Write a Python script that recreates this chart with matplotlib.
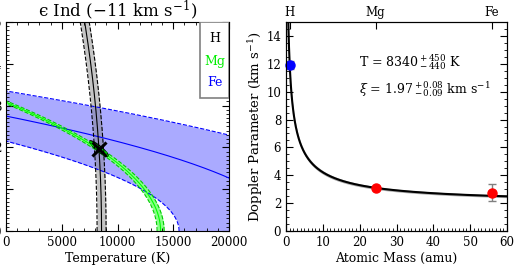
import numpy as np
import matplotlib.pyplot as plt
from matplotlib.patches import Rectangle
from matplotlib.ticker import MultipleLocator

plt.rcParams['font.family'] = ['DejaVu Serif']
plt.rcParams['mathtext.fontset'] = 'dejavuserif'
plt.rcParams['font.size'] = 8.5

# measured Doppler parameters (km/s) per element
elements = ["H", "Mg", "Fe"]
mass = [1.008, 24.305, 55.845]
b_obs = [11.89, 3.08, 2.75]
b_err = [0.28, 0.035, 0.6]
elem_colors = ["black", "#00ee00", "blue"]

# best fit
T_fit = 8340
T_up, T_lo = 450, 440
xi_fit = 1.97
xi_up, xi_lo = 0.08, 0.09
# confidence ellipse half-widths on the T-xi plane
ell_dT, ell_dxi = 850, 0.19

C = 0.016629  # 2k/m_u in km^2 s^-2 K^-1


def temp_of_xi(b, A, xi):
    return (b**2 - xi**2) * A / C


fig = plt.figure(figsize=(5.15, 2.71), dpi=100)
ax1 = fig.add_axes([6 / 515, 40 / 271, 223 / 515, 209 / 271])
ax2 = fig.add_axes([286 / 515, 40 / 271, 221 / 515, 209 / 271])

xi = np.linspace(0, 5.2, 600)

# Fe band
b, A = b_obs[2], mass[2]
lo = np.clip(temp_of_xi(b - b_err[2], A, xi), 0, None)
hi = np.clip(temp_of_xi(b + b_err[2], A, xi), 0, None)
ax1.fill_betweenx(xi, lo, hi, color="#aaaaff", lw=0)
ax1.plot(temp_of_xi(b - b_err[2], A, xi), xi, "--", color="blue", lw=0.8)
ax1.plot(temp_of_xi(b + b_err[2], A, xi), xi, "--", color="blue", lw=0.8)
ax1.plot(temp_of_xi(b, A, xi), xi, "-", color="blue", lw=0.8)

# Mg band
b, A = b_obs[1], mass[1]
ax1.fill_betweenx(xi, temp_of_xi(b - b_err[1], A, xi), temp_of_xi(b + b_err[1], A, xi),
                  color="#88ff88", lw=0)
ax1.plot(temp_of_xi(b - b_err[1], A, xi), xi, "--", color="#00cc00", lw=0.8)
ax1.plot(temp_of_xi(b + b_err[1], A, xi), xi, "--", color="#00cc00", lw=0.8)
ax1.plot(temp_of_xi(b, A, xi), xi, "-", color="#00ff00", lw=0.8)

# H band
b, A = b_obs[0], mass[0]
ax1.fill_betweenx(xi, temp_of_xi(b - b_err[0], A, xi), temp_of_xi(b + b_err[0], A, xi),
                  color="gray", alpha=0.45, lw=0)
ax1.plot(temp_of_xi(b - b_err[0], A, xi), xi, "--", color="black", lw=0.8)
ax1.plot(temp_of_xi(b + b_err[0], A, xi), xi, "--", color="black", lw=0.8)
ax1.plot(temp_of_xi(b, A, xi), xi, "-", color="black", lw=0.8)

# confidence ellipse and best fit
t = np.linspace(0, 2 * np.pi, 200)
ell_T = T_fit + ell_dT * np.cos(t)
ell_xi = xi_fit - ell_dxi * np.cos(t + 0.45)
ax1.fill(ell_T, ell_xi, facecolor="#00dd00", edgecolor="black", lw=0.8)
ax1.plot(T_fit, xi_fit, "x", color="black", ms=10, mew=2.2)

ax1.set_xlim(0, 20000)
ax1.set_ylim(0, 5)
ax1.xaxis.set_major_locator(MultipleLocator(5000))
ax1.xaxis.set_minor_locator(MultipleLocator(1000))
ax1.yaxis.set_major_locator(MultipleLocator(1))
ax1.yaxis.set_minor_locator(MultipleLocator(0.1))
ax1.tick_params(which="both", direction="in", top=True, right=True)
ax1.tick_params(which="major", length=5)
ax1.tick_params(which="minor", length=2.5)
ax1.set_xlabel("Temperature (K)", labelpad=2, fontsize=9)
ax1.set_title("ϵ Ind ($-$11 km s$^{-1}$)", fontsize=12, pad=3)

# legend box
ax1.add_patch(Rectangle((0.87, 0.636), 0.13, 0.364, transform=ax1.transAxes,
                        facecolor="white", edgecolor="gray", lw=1.2, zorder=6))
for lab, col, yy in zip(elements, elem_colors, [0.92, 0.81, 0.71]):
    ax1.text(0.935, yy, lab, color=col, transform=ax1.transAxes, ha="center",
             va="center", fontsize=9, zorder=7)

# right panel: Doppler parameter vs atomic mass
A_grid = np.linspace(0.5, 62, 800)
b_fit = np.sqrt(C * T_fit / A_grid + xi_fit**2)
b_min = np.sqrt(C * (T_fit - T_lo) / A_grid + (xi_fit - xi_lo)**2)
b_max = np.sqrt(C * (T_fit + T_up) / A_grid + (xi_fit + xi_up)**2)
ax2.fill_between(A_grid, b_min, b_max, color="#aaaaaa", lw=0)
ax2.plot(A_grid, b_fit, color="black", lw=1.5)

pt_colors = ["blue", "red", "red"]
for m, bo, be, c in zip(mass, b_obs, b_err, pt_colors):
    ax2.errorbar(m, bo, yerr=be, fmt="o", color=c, ms=6.5, ecolor="gray",
                 elinewidth=1, capsize=3, clip_on=False, zorder=5)

ax2.text(19.8, 12.1, r"T = 8340$\,^{+\,450}_{-\,440}$ K", fontsize=9, va="center")
ax2.text(19.8, 10.2, r"$\xi$ = 1.97$\,^{+\,0.08}_{-\,0.09}$ km s$^{-1}$", fontsize=9,
         va="center")

ax2.set_xlim(0, 60)
ax2.set_ylim(0, 15)
ax2.xaxis.set_major_locator(MultipleLocator(10))
ax2.xaxis.set_minor_locator(MultipleLocator(1))
ax2.yaxis.set_major_locator(MultipleLocator(2))
ax2.yaxis.set_minor_locator(MultipleLocator(0.5))
ax2.tick_params(which="both", direction="in", right=True)
ax2.tick_params(which="major", length=5)
ax2.tick_params(which="minor", length=2.5)
ax2.set_xlabel("Atomic Mass (amu)", labelpad=2, fontsize=9)
ax2.set_ylabel(r"Doppler Parameter (km s$^{-1}$)", labelpad=1, fontsize=9.5)

top = ax2.twiny()
top.set_xlim(0, 60)
top.set_xticks(mass)
top.set_xticklabels(elements)
top.tick_params(direction="in", length=5, pad=2)

fig.savefig("out.png", dpi=100)
